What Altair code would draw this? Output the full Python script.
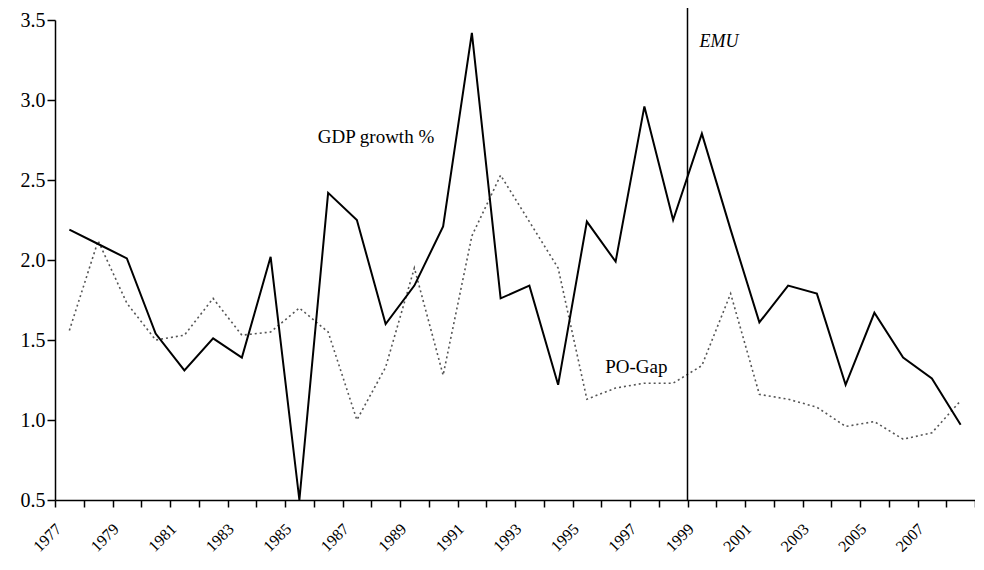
import altair as alt
import pandas as pd

years = [str(y) for y in range(1977, 2009)]
gdp = [2.19, 2.10, 2.01, 1.54, 1.31, 1.51, 1.39, 2.02, 0.50, 2.42,
       2.25, 1.60, 1.84, 2.21, 3.42, 1.76, 1.84, 1.22, 2.24, 1.99,
       2.96, 2.25, 2.79, 2.19, 1.61, 1.84, 1.79, 1.22, 1.67, 1.39,
       1.26, 0.97]
pogap = [1.56, 2.12, 1.73, 1.50, 1.53, 1.76, 1.53, 1.55, 1.70, 1.55,
         1.00, 1.33, 1.95, 1.28, 2.15, 2.53, 2.24, 1.95, 1.13, 1.20,
         1.23, 1.23, 1.34, 1.79, 1.16, 1.13, 1.08, 0.96, 0.99, 0.88,
         0.92, 1.12]
y_ticks = [0.5, 1.0, 1.5, 2.0, 2.5, 3.0, 3.5]

df = pd.DataFrame({"year": years, "gdp": gdp, "pogap": pogap})

FONT = "Liberation Serif"

xscale = alt.Scale(type="band", domain=years, paddingInner=0, paddingOuter=0)
yscale = alt.Scale(domain=[0.5, 3.5], nice=False, zero=False)

xaxis = alt.Axis(
    title=None, orient="bottom", tickBand="extent", labelAngle=-45, labelAlign="right",
    labelBaseline="middle", labelOffset=-11, labelPadding=19,
    labelExpr="parseInt(datum.value) % 2 == 1 ? datum.value : ''",
    labelFontSize=16, labelFont=FONT, labelColor="black",
    tickSize=7, tickColor="black", tickWidth=1.5,
    domainColor="black", domainWidth=1.5, grid=False,
)
yaxis = alt.Axis(
    title=None, orient="left", values=y_ticks, format=".1f", labelFontSize=20,
    labelFont=FONT, labelColor="black", labelPadding=2,
    tickSize=8, tickColor="black", tickWidth=1.5,
    domainColor="black", domainWidth=1.5, grid=False,
)

base = alt.Chart(df)

po_line = base.mark_line(color="#555555", strokeWidth=1.6, strokeDash=[2, 3]).encode(
    x=alt.X("year:O", scale=xscale, axis=xaxis, bandPosition=0.5),
    y=alt.Y("pogap:Q", scale=yscale, axis=yaxis),
)
gdp_line = base.mark_line(color="black", strokeWidth=2).encode(
    x=alt.X("year:O", scale=xscale, bandPosition=0.5),
    y=alt.Y("gdp:Q", scale=yscale),
)

emu_df = pd.DataFrame({"year": ["1999"], "label": ["EMU"], "y": [3.33]})
emu_rule = alt.Chart(emu_df).mark_rule(color="black", strokeWidth=1.5).encode(
    x=alt.X("year:O", scale=xscale, bandPosition=0),
    y=alt.value(-12),
    y2=alt.value(480),
)
emu_text = alt.Chart(emu_df).mark_text(
    align="left", baseline="alphabetic", font=FONT, fontSize=18,
    fontStyle="italic", dx=12, color="black",
).encode(
    x=alt.X("year:O", scale=xscale, bandPosition=0),
    y=alt.Y("y:Q", scale=yscale),
    text="label:N",
)

lab_df = pd.DataFrame({
    "year": ["1986", "1996"],
    "label": ["GDP growth %", "PO-Gap"],
    "y": [2.73, 1.294],
})
labels = alt.Chart(lab_df).mark_text(
    align="left", baseline="alphabetic", font=FONT, fontSize=19, color="black", dx=4,
).encode(
    x=alt.X("year:O", scale=xscale, bandPosition=0),
    y=alt.Y("y:Q", scale=yscale),
    text="label:N",
)

chart = (
    alt.layer(po_line, gdp_line, emu_rule, emu_text, labels)
    .properties(
        width=920, height=480,
        background="white",
        autosize=alt.AutoSizeParams(type="none"),
        padding={"left": 47, "top": 12, "right": 0, "bottom": 62},
    )
    .configure_view(strokeWidth=0, stroke="transparent")
    .configure_axis(grid=False)
)

chart.save("out.html", embed_options={"renderer": "svg", "actions": False})
